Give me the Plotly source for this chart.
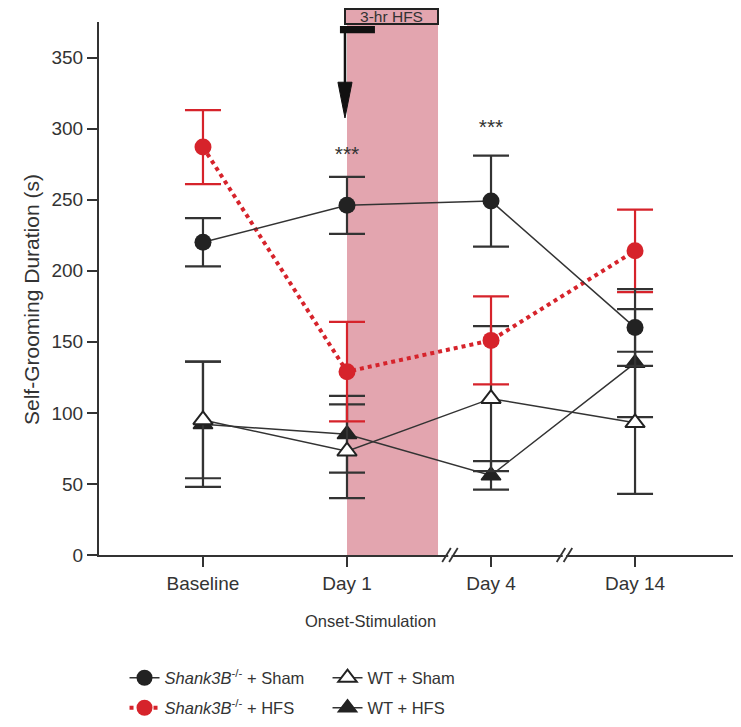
import plotly.graph_objects as go

days = ["Baseline", "Day 1", "Day 4", "Day 14"]
xpos = [0, 1, 2, 3]

shank_sham = [220, 246, 249, 160]
shank_sham_err = [17, 20, 32, 27]
shank_hfs = [287, 129, 151, 214]
shank_hfs_err = [26, 35, 31, 29]
wt_sham = [95, 73, 110, 93]
wt_sham_err = [41, 33, 51, 50]
wt_hfs = [92, 85, 56, 135]
wt_hfs_err = [44, 27, 10, 38]

stars_x = [1, 2]
stars_y = [281, 300]

yticks = [0, 50, 100, 150, 200, 250, 300, 350]

dark = "#333333"
red = "#d6232b"
pink = "#e3a5af"
font = "Liberation Sans, Arial, sans-serif"

fig = go.Figure()

fig.add_trace(go.Scatter(
    x=xpos, y=wt_hfs, mode="lines+markers", name="WT + HFS", legend="legend2",
    line=dict(color=dark, width=1.5),
    marker=dict(symbol="triangle-up", size=17, color="#222222", line=dict(color="#222222", width=1.5)),
    error_y=dict(type="data", array=wt_hfs_err, color=dark, thickness=2.2, width=18)))
fig.add_trace(go.Scatter(
    x=xpos, y=wt_sham, mode="lines+markers", name="WT + Sham", legend="legend",
    line=dict(color=dark, width=1.5),
    marker=dict(symbol="triangle-up", size=17, color="white", line=dict(color="#222222", width=2)),
    error_y=dict(type="data", array=wt_sham_err, color=dark, thickness=2.2, width=18)))
fig.add_trace(go.Scatter(
    x=xpos, y=shank_hfs, mode="lines+markers", name="<i>Shank3B</i><sup>-/-</sup> + HFS",
    legend="legend2", legendrank=1,
    line=dict(color=red, width=4, dash="dot"),
    marker=dict(symbol="circle", size=17, color=red),
    error_y=dict(type="data", array=shank_hfs_err, color=red, thickness=2.2, width=18)))
fig.add_trace(go.Scatter(
    x=xpos, y=shank_sham, mode="lines+markers", name="<i>Shank3B</i><sup>-/-</sup> + Sham",
    legend="legend", legendrank=1,
    line=dict(color=dark, width=1.5),
    marker=dict(symbol="circle", size=17, color="#222222"),
    error_y=dict(type="data", array=shank_sham_err, color=dark, thickness=2.2, width=18)))

fig.add_trace(go.Scatter(
    x=stars_x, y=stars_y, mode="text", text=["***", "***"], showlegend=False,
    textfont=dict(size=21, color=dark, family=font), hoverinfo="skip"))

shapes = []
# stimulation window
shapes.append(dict(type="rect", xref="x", yref="paper", x0=1, x1=1.632, y0=0, y1=1,
                   fillcolor=pink, line=dict(width=0), layer="below"))
# black bar under the box
shapes.append(dict(type="rect", xref="x", yref="paper", x0=0.951, x1=1.194, y0=0.979, y1=0.9925,
                   fillcolor="#111111", line=dict(width=0), layer="above"))
# arrow shaft and head
shapes.append(dict(type="line", xref="x", yref="paper", x0=0.986, x1=0.986, y0=0.98, y1=0.88,
                   line=dict(color="#111111", width=2.5), layer="above"))
shapes.append(dict(type="path", xref="x", yref="paper",
                   path="M 0.937 0.887 L 1.035 0.887 L 0.986 0.820 Z",
                   fillcolor="#111111", line=dict(color="#111111", width=1), layer="above"))
# axis breaks
for bx in [1.715, 2.51]:
    shapes.append(dict(type="rect", xref="x", yref="paper", x0=bx - 0.012, x1=bx + 0.012,
                       y0=-0.006, y1=0.006, fillcolor="white", line=dict(width=0), layer="above"))
    for dx in [-0.024, 0.024]:
        shapes.append(dict(type="line", xref="x", yref="paper",
                           x0=bx + dx - 0.03, x1=bx + dx + 0.03, y0=-0.013, y1=0.013,
                           line=dict(color=dark, width=1.8), layer="above"))

annotations = [
    dict(text="3-hr HFS", xref="x", yref="paper", x=1.309, y=1.0094, xanchor="center", yanchor="middle",
         showarrow=False, width=91, height=13, borderpad=0, borderwidth=2, bordercolor="#222222",
         bgcolor=pink, font=dict(size=15.5, color=dark, family=font)),
    dict(text="Onset-Stimulation", xref="paper", yref="paper", x=0.425, y=-0.145,
         showarrow=False, font=dict(size=16.5, color=dark, family=font)),
    dict(text="Self-Grooming Duration (s)", xref="paper", yref="paper", x=-0.128, y=0.48,
         textangle=-90, showarrow=False, font=dict(size=21, color=dark, family=font)),
]

legend_common = dict(orientation="h", x=0.04, xanchor="left", yanchor="middle",
                     entrywidth=158, entrywidthmode="pixels", font=dict(size=16.5, color=dark, family=font),
                     bgcolor="rgba(0,0,0,0)")

fig.update_layout(
    width=733, height=711,
    margin=dict(l=91, r=4, t=14, b=164, autoexpand=False),
    plot_bgcolor="white", paper_bgcolor="white",
    font=dict(family=font, color=dark, size=19),
    shapes=shapes, annotations=annotations,
    showlegend=True,
    legend=dict(y=-0.2308, **legend_common),
    legend2=dict(y=-0.2871, **legend_common),
)
fig.update_xaxes(range=[-0.722, 3.708], tickvals=xpos, ticktext=days, showgrid=False,
                 zeroline=False, showline=True, linecolor=dark, linewidth=2,
                 ticks="outside", ticklen=10, tickwidth=2, tickcolor=dark,
                 tickfont=dict(size=19, color=dark))
fig.update_yaxes(range=[0, 375], tickvals=yticks, showgrid=False, zeroline=False,
                 showline=True, linecolor=dark, linewidth=2,
                 ticks="outside", ticklen=10, tickwidth=2, tickcolor=dark,
                 tickfont=dict(size=19, color=dark))

fig.write_html("out.html")
